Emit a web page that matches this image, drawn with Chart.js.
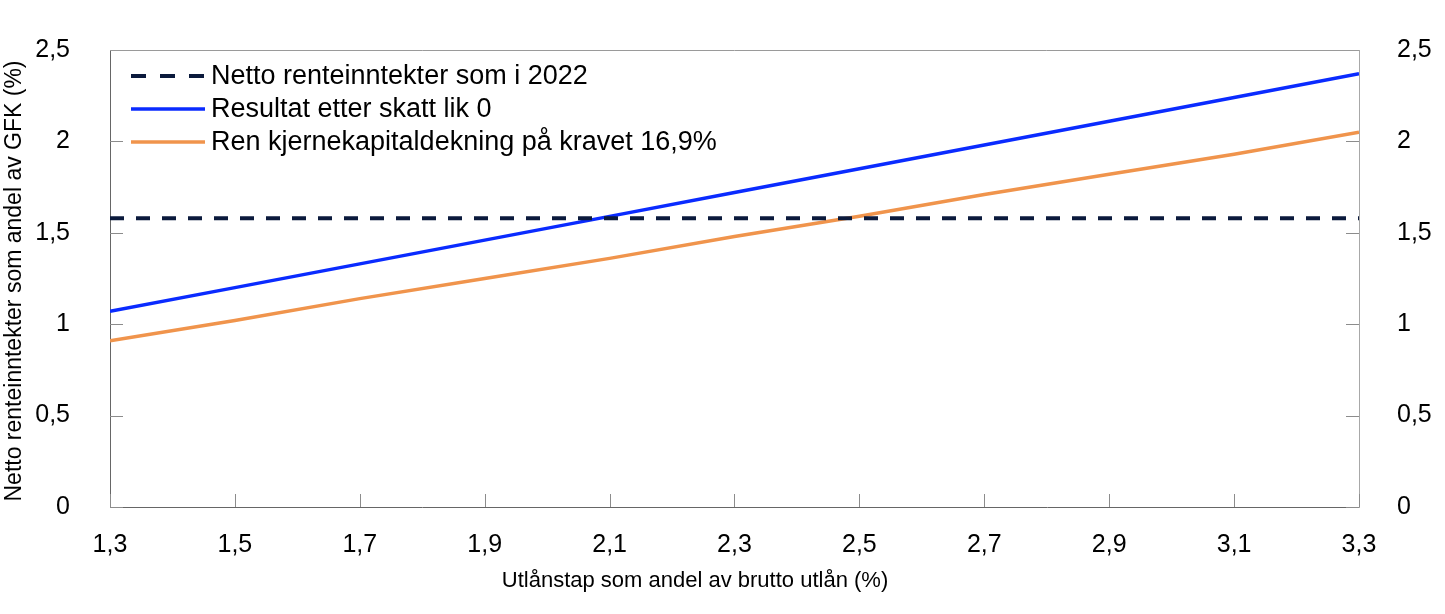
<!DOCTYPE html>
<html>
<head>
<meta charset="utf-8">
<script src="https://cdn.jsdelivr.net/npm/chart.js@4/dist/chart.umd.min.js"></script>
<style>
  html, body { margin: 0; padding: 0; background: #fff; }
  #wrap { width: 1445px; height: 614px; }
</style>
</head>
<body>
<div id="wrap"><canvas id="chart"></canvas></div>
<script>
// x: utlanstap (%), y: netto renteinntekter (%)
const xValues = [1.3, 1.5, 1.7, 1.9, 2.1, 2.3, 2.5, 2.7, 2.9, 3.1, 3.3];
const netto2022 = [1.58, 1.58, 1.58, 1.58, 1.58, 1.58, 1.58, 1.58, 1.58, 1.58, 1.58];
const resultatNull = [1.07, 1.20, 1.33, 1.46, 1.59, 1.72, 1.85, 1.98, 2.11, 2.24, 2.37];
const renKjerne = [0.91, 1.02, 1.14, 1.25, 1.36, 1.48, 1.59, 1.71, 1.82, 1.93, 2.05];
const xTicks = [1.3, 1.5, 1.7, 1.9, 2.1, 2.3, 2.5, 2.7, 2.9, 3.1, 3.3];
const yTicks = [0, 0.5, 1, 1.5, 2, 2.5];
const xTitle = "Utlånstap som andel av brutto utlån (%)";
const yTitle = "Netto renteinntekter som andel av GFK (%)";

const FONT = "'Liberation Sans', Arial, sans-serif";

function pts(ys) {
  return xValues.map((x, i) => ({ x: x, y: ys[i] }));
}
function komma(v) {
  return String(v).replace(".", ",");
}
function noPad(s) {
  s.paddingTop = 0;
  s.paddingBottom = 0;
  s.paddingLeft = 0;
  s.paddingRight = 0;
}

// inward tick marks, top border, axis titles and legend inside the plot
const innerBits = {
  id: "innerBits",
  afterDraw(chart) {
    const ctx = chart.ctx;
    const a = chart.chartArea;
    const xs = chart.scales.x, yl = chart.scales.y, yr = chart.scales.y2;
    ctx.save();
    ctx.lineWidth = 1;
    ctx.strokeStyle = "#8c8c8c";
    xs.ticks.forEach((t) => {
      const px = Math.round(xs.getPixelForValue(t.value)) + 0.5;
      ctx.beginPath();
      ctx.moveTo(px, a.bottom);
      ctx.lineTo(px, a.bottom - 13);
      ctx.stroke();
    });
    yl.ticks.forEach((t) => {
      const py = Math.round(yl.getPixelForValue(t.value)) + 0.5;
      ctx.beginPath();
      ctx.moveTo(a.left, py);
      ctx.lineTo(a.left + 13, py);
      ctx.stroke();
    });
    yr.ticks.forEach((t) => {
      const py = Math.round(yr.getPixelForValue(t.value)) + 0.5;
      ctx.beginPath();
      ctx.moveTo(a.right, py);
      ctx.lineTo(a.right - 13, py);
      ctx.stroke();
    });
    ctx.strokeStyle = "#9a9a9a";
    ctx.beginPath();
    ctx.moveTo(a.left, Math.round(a.top) + 0.5);
    ctx.lineTo(a.right, Math.round(a.top) + 0.5);
    ctx.stroke();

    // axis titles
    ctx.fillStyle = "#000";
    ctx.textAlign = "center";
    ctx.textBaseline = "middle";
    ctx.font = "22px " + FONT;
    ctx.fillText(xTitle, 695, 581);
    ctx.save();
    ctx.font = "23px " + FONT;
    ctx.translate(15, 281);
    ctx.rotate(-Math.PI / 2);
    ctx.fillText(yTitle, 0, 0);
    ctx.restore();

    // legend
    ctx.font = "27px " + FONT;
    ctx.textAlign = "left";
    chart.data.datasets.forEach((ds, i) => {
      const y = a.top + 26 + i * 33;
      const x0 = a.left + 21;
      ctx.strokeStyle = ds.borderColor;
      ctx.lineWidth = ds.borderWidth;
      ctx.setLineDash(ds.borderDash ? [15, 14] : []);
      ctx.beginPath();
      ctx.moveTo(x0, y);
      ctx.lineTo(x0 + 74, y);
      ctx.stroke();
      ctx.setLineDash([]);
      ctx.fillStyle = "#000";
      ctx.fillText(ds.label, x0 + 80, y + 1);
    });
    ctx.restore();
  },
};

const ctx = document.getElementById("chart").getContext("2d");
new Chart(ctx, {
  type: "line",
  plugins: [innerBits],
  data: {
    datasets: [
      {
        label: "Netto renteinntekter som i 2022",
        data: pts(netto2022),
        borderColor: "#0b1a3c",
        borderWidth: 4,
        borderDash: [14, 12],
        pointRadius: 0,
        fill: false,
      },
      {
        label: "Resultat etter skatt lik 0",
        data: pts(resultatNull),
        borderColor: "#0a2bff",
        borderWidth: 3.5,
        pointRadius: 0,
        fill: false,
      },
      {
        label: "Ren kjernekapitaldekning på kravet 16,9%",
        data: pts(renKjerne),
        borderColor: "#f0944c",
        borderWidth: 3.5,
        pointRadius: 0,
        fill: false,
      },
    ],
  },
  options: {
    responsive: true,
    maintainAspectRatio: false,
    animation: false,
    layout: { padding: { top: 50, left: 0, right: 0, bottom: 0 } },
    plugins: {
      legend: { display: false },
      tooltip: { enabled: false },
    },
    scales: {
      x: {
        type: "linear",
        min: 1.3,
        max: 3.3,
        afterBuildTicks: (s) => { s.ticks = xTicks.map((v) => ({ value: v })); },
        afterFit: (s) => { s.height = 107; noPad(s); },
        grid: { display: false, drawTicks: false },
        border: { display: true, color: "#666", width: 1 },
        ticks: {
          padding: 23,
          color: "#000",
          font: { size: 25, family: FONT },
          callback: (v) => komma(v),
          maxRotation: 0,
        },
      },
      y: {
        position: "left",
        min: 0,
        max: 2.5,
        afterBuildTicks: (s) => { s.ticks = yTicks.map((v) => ({ value: v })); },
        afterFit: (s) => { s.width = 110; noPad(s); },
        grid: { display: false, drawTicks: false },
        border: { display: true, color: "#666", width: 1 },
        ticks: {
          padding: 40,
          color: "#000",
          font: { size: 25, family: FONT },
          callback: (v) => komma(v),
        },
      },
      y2: {
        position: "right",
        min: 0,
        max: 2.5,
        afterBuildTicks: (s) => { s.ticks = yTicks.map((v) => ({ value: v })); },
        afterFit: (s) => { s.width = 86; noPad(s); },
        grid: { display: false, drawTicks: false },
        border: { display: true, color: "#a8a8a8", width: 1 },
        ticks: {
          padding: 38,
          color: "#000",
          font: { size: 25, family: FONT },
          callback: (v) => komma(v),
        },
      },
    },
  },
});
</script>
</body>
</html>
